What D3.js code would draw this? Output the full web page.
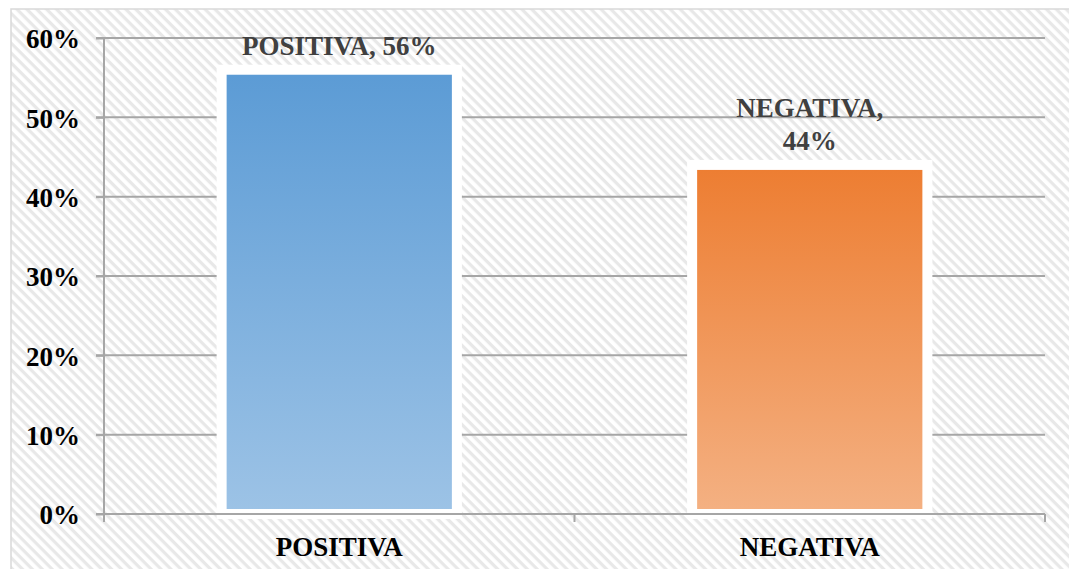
<!DOCTYPE html>
<html>
<head>
<meta charset="utf-8">
<script src="https://cdn.jsdelivr.net/npm/d3@7"></script>
<style>
  body { margin: 0; background: #fff; }
  svg text { font-family: "Liberation Serif", "Times New Roman", serif; font-weight: bold; }
</style>
</head>
<body>
<div id="chart"></div>
<script>
var categories = ["POSITIVA", "NEGATIVA"];
var values = [0.56, 0.44];
var labelLines = [["POSITIVA, 56%"], ["NEGATIVA,", "44%"]];
var yTicks = [0, 0.1, 0.2, 0.3, 0.4, 0.5, 0.6];
var topColors = ["#5b9bd5", "#ed7d31"];
var bottomColors = ["#9dc3e6", "#f4b183"];

var W = 1069, H = 569;
var margin = {left: 104, right: 24, top: 38, bottom: 55};
var w = W - margin.left - margin.right,
    h = H - margin.top - margin.bottom;

var svg = d3.select("#chart").append("svg")
    .attr("width", W).attr("height", H);

var defs = svg.append("defs");

// diagonal stripe background
var pat = defs.append("pattern")
    .attr("id", "stripes")
    .attr("width", 7).attr("height", 7)
    .attr("patternUnits", "userSpaceOnUse")
    .attr("patternTransform", "rotate(45)");
pat.append("rect").attr("width", 7).attr("height", 7).attr("fill", "#ffffff");
pat.append("rect").attr("width", 7).attr("height", 3.2).attr("fill", "#e8e8e8");

// gradients for bars
categories.forEach(function(c, i) {
    var g = defs.append("linearGradient")
        .attr("id", "grad" + i)
        .attr("x1", 0).attr("y1", 0).attr("x2", 0).attr("y2", 1);
    g.append("stop").attr("offset", "0%").attr("stop-color", topColors[i]);
    g.append("stop").attr("offset", "100%").attr("stop-color", bottomColors[i]);
});

svg.append("rect")
    .attr("x", 11).attr("y", 9)
    .attr("width", W - 10).attr("height", H)
    .attr("fill", "url(#stripes)")
    .attr("stroke", "#d9d9d9")
    .attr("stroke-width", 1.5);

var chart = svg.append("g")
    .attr("transform", "translate(" + margin.left + "," + margin.top + ")");

var x = d3.scaleBand()
    .domain(categories)
    .range([0, w])
    .paddingInner(0.5)
    .paddingOuter(0.25);

var y = d3.scaleLinear()
    .domain([0, 0.6])
    .range([h, 0]);

// gridlines
chart.append("g")
    .selectAll("line")
    .data(yTicks.slice(1))
    .enter().append("line")
    .attr("x1", -8).attr("x2", w)
    .attr("y1", d => y(d)).attr("y2", d => y(d))
    .attr("stroke", "#a6a6a6")
    .attr("stroke-width", 2);

// bars
chart.selectAll(".bar")
    .data(values)
    .enter().append("rect")
    .attr("class", "bar")
    .attr("x", (d, i) => x(categories[i]))
    .attr("y", d => y(d))
    .attr("width", x.bandwidth())
    .attr("height", d => h - y(d))
    .attr("fill", (d, i) => "url(#grad" + i + ")")
    .attr("stroke", "#ffffff")
    .attr("stroke-width", 10);

// y axis
var yAxis = chart.append("g")
    .call(d3.axisLeft(y).tickValues(yTicks).tickFormat(d3.format(".0%")).tickSize(8).tickPadding(16));
yAxis.select(".domain").attr("stroke", "#a6a6a6").attr("stroke-width", 2)
    .attr("d", "M0," + (h + 8) + "V0");
yAxis.selectAll(".tick line").attr("stroke", "#a6a6a6").attr("stroke-width", 2);
yAxis.selectAll("text").attr("font-size", 27).attr("fill", "#000").attr("dy", "0.36em");

// x axis
var xAxis = chart.append("g")
    .attr("transform", "translate(0," + h + ")")
    .call(d3.axisBottom(x).tickSize(0).tickPadding(23));
xAxis.select(".domain").attr("stroke", "#a6a6a6").attr("stroke-width", 2)
    .attr("d", "M-8,0H" + w);
xAxis.selectAll("text").attr("font-size", 27).attr("fill", "#000");

// x boundary ticks
var xb = [0, w / 2, w];
chart.append("g").selectAll("line")
    .data(xb).enter().append("line")
    .attr("x1", d => d).attr("x2", d => d)
    .attr("y1", h).attr("y2", h + 8)
    .attr("stroke", "#a6a6a6").attr("stroke-width", 2);

// data labels
var lbl = chart.selectAll(".lbl")
    .data(values)
    .enter().append("text")
    .attr("class", "lbl")
    .attr("text-anchor", "middle")
    .attr("font-size", 27)
    .attr("fill", "#404040")
    .attr("x", (d, i) => x(categories[i]) + x.bandwidth() / 2)
    .attr("y", (d, i) => y(d) - 15 - (labelLines[i].length - 1) * 33);
lbl.each(function(d, i) {
    var t = d3.select(this);
    labelLines[i].forEach(function(s, k) {
        t.append("tspan")
            .attr("x", x(categories[i]) + x.bandwidth() / 2)
            .attr("dy", k === 0 ? 0 : 33)
            .text(s);
    });
});
</script>
</body>
</html>
